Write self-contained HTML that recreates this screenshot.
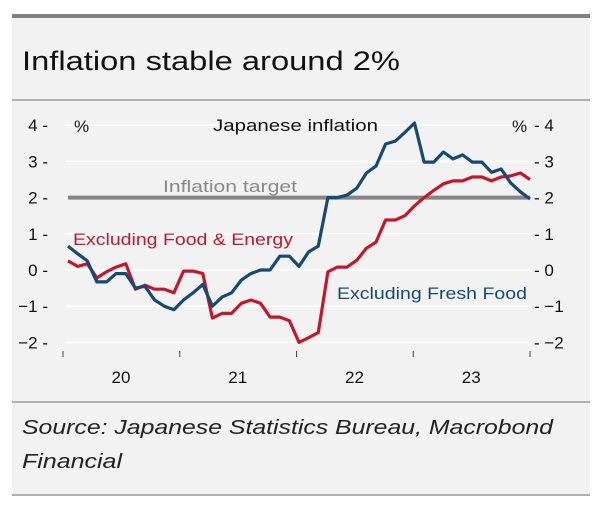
<!DOCTYPE html>
<html><head><meta charset="utf-8"><style>
body{margin:0;background:#fff;width:600px;height:506px;overflow:hidden;font-family:"Liberation Sans",sans-serif}
svg{display:block}
</style></head><body>
<svg width="600" height="506" viewBox="0 0 600 506">
<rect x="12" y="14" width="578" height="482" fill="#f2f2f2"/>
<rect x="12" y="14" width="578" height="4" fill="#808080"/>
<text x="22" y="70" font-size="27" fill="#111" textLength="378" lengthAdjust="spacingAndGlyphs">Inflation stable around 2%</text>
<line x1="12" y1="100" x2="590" y2="100" stroke="#888" stroke-width="1.2"/>
<g id="plot"></g>
<line x1="12" y1="402" x2="590" y2="402" stroke="#888" stroke-width="1.2"/>
<text x="22" y="434" font-size="20" font-style="italic" fill="#222" textLength="531" lengthAdjust="spacingAndGlyphs">Source: Japanese Statistics Bureau, Macrobond</text>
<text x="22" y="468" font-size="20" font-style="italic" fill="#222" textLength="100" lengthAdjust="spacingAndGlyphs">Financial</text>
<line x1="12" y1="495" x2="590" y2="495" stroke="#888" stroke-width="1.2"/>
</svg>
<script>
const yTicks=[4,3,2,1,0,-1,-2];
const yTickLabels=["4","3","2","1","0","\u22121","\u22122"];
const yearLabels=["20","21","22","23"];
const targetValue=2;
const exFreshFood=[0.66,0.45,0.25,-0.33,-0.33,-0.1,-0.1,-0.5,-0.45,-0.83,-1.0,-1.1,-0.83,-0.63,-0.4,-1.0,-0.75,-0.63,-0.28,-0.1,0,0,0.38,0.38,0.1,0.5,0.66,2.0,2.0,2.07,2.26,2.68,2.87,3.48,3.56,3.8,4.06,2.98,2.98,3.26,3.07,3.18,2.98,2.98,2.7,2.79,2.4,2.16,1.96];
const exFoodEnergy=[0.25,0.1,0.17,-0.22,-0.05,0.08,0.17,-0.53,-0.42,-0.53,-0.53,-0.63,-0.03,-0.03,-0.1,-1.33,-1.2,-1.2,-0.92,-0.83,-0.92,-1.3,-1.3,-1.4,-2.0,-1.87,-1.73,-0.05,0.08,0.08,0.27,0.6,0.77,1.38,1.38,1.5,1.77,2.0,2.2,2.38,2.46,2.46,2.57,2.57,2.46,2.57,2.6,2.68,2.5];

const NS="http://www.w3.org/2000/svg";
const g=document.getElementById('plot');
const y=v=>270-v*36.2;
const x=i=>68+i*(462/(exFreshFood.length-1));
function mk(tag,attrs,text){const e=document.createElementNS(NS,tag);for(const k in attrs)e.setAttribute(k,attrs[k]);if(text!==undefined)e.textContent=text;g.appendChild(e);return e;}

yTicks.forEach((v,k)=>{
  let e=mk('line',{x1:65,x2:530,y1:y(v),y2:y(v),stroke:'#fff','stroke-width':1.5});
  
  
  e=mk('text',{x:48,y:y(v)+6,'font-size':17,'text-anchor':'end',fill:'#111'},yTickLabels[k]+" -");
  
  
  e=mk('text',{x:534,y:y(v)+6,'font-size':17,fill:'#111'},"- "+yTickLabels[k]);
  
  
});
for(let k=0;k<=yearLabels.length;k++){
  const tx=63+k*116.75;
  let e=mk('line',{x1:tx,x2:tx,y1:351,y2:357,stroke:'#444','stroke-width':1});
  
  
  if(k<yearLabels.length){
    e=mk('text',{x:tx+58,y:383,'font-size':17,'text-anchor':'middle',fill:'#111'},yearLabels[k]);
    
    
  }
}
let e=mk('text',{x:74,y:132,'font-size':17,fill:'#111'},'%');


e=mk('text',{x:512,y:132,'font-size':17,fill:'#111'},'%');



e=mk('line',{x1:68,x2:530,y1:y(targetValue),y2:y(targetValue),stroke:'#858585','stroke-width':4});


function series(arr,color,name){
  const d=arr.map((v,i)=>(i?'L':'M')+x(i).toFixed(1)+','+y(v).toFixed(1)).join(' ');
  const p=mk('path',{d:d,fill:'none',stroke:color,'stroke-width':3.2,'stroke-linejoin':'round'});
  
  
}
series(exFoodEnergy,'#c3182c','line-excluding-food-energy');
series(exFreshFood,'#174a72','line-excluding-fresh-food');

e=mk('text',{x:213,y:131,'font-size':17,fill:'#111',textLength:165,lengthAdjust:'spacingAndGlyphs'},'Japanese inflation');


e=mk('text',{x:163,y:192,'font-size':17,fill:'#888',textLength:134,lengthAdjust:'spacingAndGlyphs'},'Inflation target');


e=mk('text',{x:73,y:245,'font-size':17,fill:'#c3182c',textLength:220,lengthAdjust:'spacingAndGlyphs'},'Excluding Food & Energy');


e=mk('text',{x:337,y:299,'font-size':17,fill:'#174a72',textLength:190,lengthAdjust:'spacingAndGlyphs'},'Excluding Fresh Food');


</script>
</body></html>
